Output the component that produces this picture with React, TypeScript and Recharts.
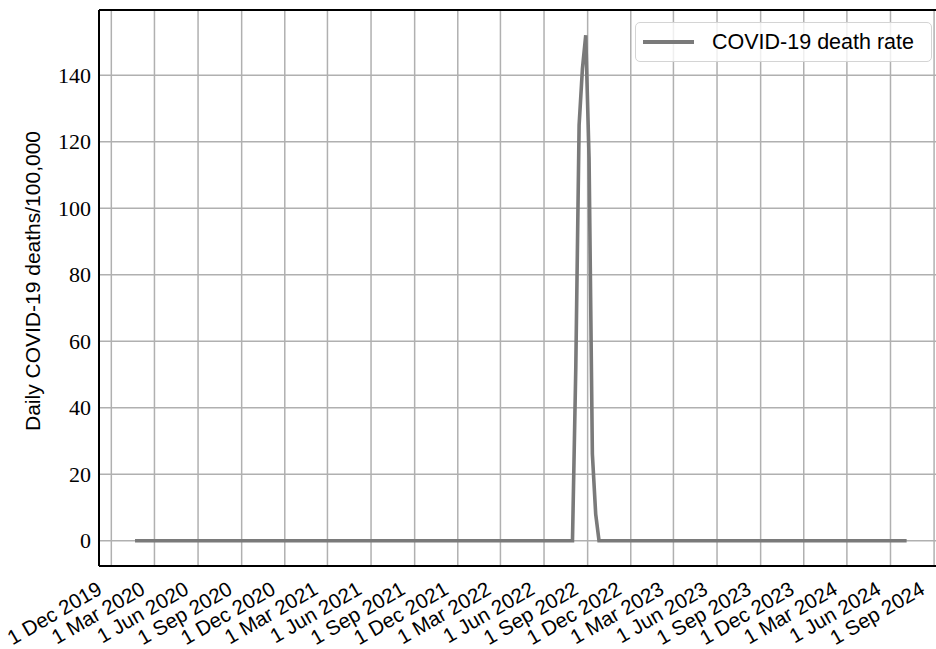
import { LineChart, Line, XAxis, YAxis, CartesianGrid, ReferenceLine } from 'recharts';

// weekly points where the curve changes; the series is flat at zero elsewhere
const dates = [
  '2020-01-20', '2022-07-31', '2022-08-07', '2022-08-14', '2022-08-21', '2022-08-28',
  '2022-09-04', '2022-09-11', '2022-09-18', '2022-09-25', '2024-07-05',
];
const deathRate = [0, 0, 52, 125, 142, 152, 115, 26, 8, 0, 0];

const tickDates = [
  '2019-12-01', '2020-03-01', '2020-06-01', '2020-09-01', '2020-12-01',
  '2021-03-01', '2021-06-01', '2021-09-01', '2021-12-01',
  '2022-03-01', '2022-06-01', '2022-09-01', '2022-12-01',
  '2023-03-01', '2023-06-01', '2023-09-01', '2023-12-01',
  '2024-03-01', '2024-06-01', '2024-09-01',
];
const yTicks = [0, 20, 40, 60, 80, 100, 120, 140];
const months = ['Jan', 'Feb', 'Mar', 'Apr', 'May', 'Jun', 'Jul', 'Aug', 'Sep', 'Oct', 'Nov', 'Dec'];

const toTime = (d: string) => Date.parse(d + 'T00:00:00Z');
const data = dates.map((d, i) => ({ t: toTime(d), rate: deathRate[i] }));
const xTicks = tickDates.map(toTime);
const xDomain = [toTime('2019-11-05'), toTime('2024-09-24')];
const yDomain = [-7.6, 159.6];

const fmtDate = (t: number) => {
  const d = new Date(t);
  return `${d.getUTCDate()} ${months[d.getUTCMonth()]} ${d.getUTCFullYear()}`;
};

const sans = '"Liberation Sans", Arial, sans-serif';
const lineColor = '#7a7a7a';

function XTick(props: any) {
  const { x, y, payload } = props;
  const px = x - 8;
  const py = y + 27;
  return (
    <text x={px} y={py} textAnchor="end" transform={`rotate(-30, ${px}, ${py})`}
      fontFamily={sans} fontSize={20.5} fill="#000">
      {fmtDate(payload.value)}
    </text>
  );
}

function YTick(props: any) {
  const { x, y, payload } = props;
  return (
    <text x={x - 8} y={y} dy={7.5} textAnchor="end"
      fontFamily='"Liberation Serif", "Times New Roman", serif' fontSize={22} fill="#000">
      {payload.value}
    </text>
  );
}

function LegendBox() {
  return (
    <div style={{
      position: 'absolute', left: 635, top: 22,
      width: 297, height: 40, boxSizing: 'border-box', border: '1.5px solid #d4d4d4',
      borderRadius: 5, background: 'rgba(255,255,255,0.8)', display: 'flex', alignItems: 'center',
    }}>
      <div style={{ width: 51, height: 4, background: lineColor, marginLeft: 7 }} />
      <span style={{ marginLeft: 18, fontFamily: sans, fontSize: 21.5, color: '#000', whiteSpace: 'nowrap' }}>
        COVID-19 death rate
      </span>
    </div>
  );
}

export default function App() {
  return (
    <div style={{ position: 'absolute', left: 0, top: 0, width: 936, height: 649, overflow: 'hidden', background: '#fff' }}>
      <LineChart width={960} height={649} data={data} margin={{ top: 10, right: 15, bottom: 0, left: 0 }}>
        <CartesianGrid stroke="#b0b0b0" strokeWidth={1.5} />
        <XAxis dataKey="t" type="number" scale="time" domain={xDomain} ticks={xTicks}
          allowDataOverflow height={83} tickLine={false} tickSize={0} tickMargin={0}
          axisLine={{ stroke: '#000', strokeWidth: 2 }} tick={<XTick />} interval={0} />
        <YAxis type="number" domain={yDomain} ticks={yTicks} allowDataOverflow width={99}
          tickLine={false} tickSize={0} tickMargin={0}
          axisLine={{ stroke: '#000', strokeWidth: 2 }} tick={<YTick />} interval={0}
          label={{
            content: () => (
              <text x={40} y={281} textAnchor="middle" transform="rotate(-90, 40, 281)"
                fontFamily={sans} fontSize={21} fill="#000">
                Daily COVID-19 deaths/100,000
              </text>
            ),
          }} />
        <ReferenceLine y={yDomain[1]} stroke="#000" strokeWidth={2} />
        <ReferenceLine x={xDomain[1]} stroke="#000" strokeWidth={2} />
        <Line type="linear" dataKey="rate" name="COVID-19 death rate" stroke={lineColor}
          strokeWidth={3.6} dot={false} isAnimationActive={false} />
      </LineChart>
      <LegendBox />
    </div>
  );
}
